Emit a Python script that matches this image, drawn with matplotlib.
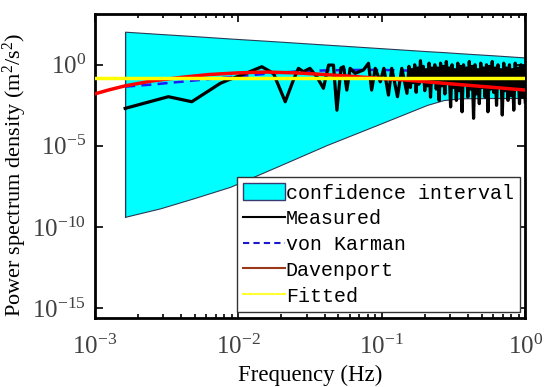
import numpy as np
import matplotlib
matplotlib.use("Agg")
import matplotlib.pyplot as plt
from matplotlib.patches import Patch
from matplotlib.lines import Line2D
from matplotlib.ticker import FixedLocator, LogLocator, NullLocator

# confidence band (log10 of frequency / psd)
conf_logf = [-2.787, -2.544, -2.311, -2.056, -1.730, -1.382, -1.033, -0.685, -0.569, -0.453, -0.2, 0.0]
conf_upper = [2.04, 1.90, 1.77, 1.62, 1.44, 1.24, 1.04, 0.84, 0.78, 0.71, 0.57, 0.45]
conf_lower = [-9.38, -8.86, -8.24, -7.53, -6.29, -4.95, -3.72, -2.48, -2.18, -2.07, -2.05, -2.05]

# measured spectrum, low-frequency part
meas_logf = [-2.787, -2.486, -2.323, -2.125, -2.07, -1.974, -1.835, -1.754, -1.672, -1.615,
             -1.58, -1.545, -1.50, -1.452, -1.406, -1.37, -1.336, -1.312, -1.284, -1.266,
             -1.243, -1.22, -1.185, -1.127, -1.092, -1.07, -1.045, -1.01, -0.985, -0.953,
             -0.93, -0.89, -0.86, -0.824]
meas_log = [-2.69, -1.97, -2.28, -1.15, -0.94, -0.63, -0.12, -0.53, -2.28, -0.94,
            -0.22, -0.43, -0.22, -0.74, -1.45, -0.02, -0.02, -2.8, -0.2, -0.12,
            -1.56, -0.22, -0.53, -0.32, 0.09, -1.56, -0.22, -1.05, -0.22, -1.87,
            -0.22, -1.97, -0.22, -1.76]

# measured spectrum, dense high-frequency part
dense_logf = [-0.81, -0.80, -0.79, -0.78, -0.77, -0.76, -0.75, -0.74, -0.73, -0.72,
              -0.71, -0.70, -0.69, -0.68, -0.67, -0.66, -0.65, -0.64, -0.63, -0.62,
              -0.61, -0.60, -0.59, -0.58, -0.57, -0.56, -0.55, -0.54, -0.53, -0.52,
              -0.51, -0.50, -0.49, -0.48, -0.47, -0.46, -0.45, -0.44, -0.43, -0.42,
              -0.41, -0.40, -0.39, -0.38, -0.37, -0.36, -0.35, -0.34, -0.33, -0.32,
              -0.31, -0.30, -0.29, -0.28, -0.27, -0.26, -0.25, -0.24, -0.23, -0.22,
              -0.21, -0.20, -0.19, -0.18, -0.17, -0.16, -0.15, -0.14, -0.13, -0.12,
              -0.11, -0.10, -0.09, -0.08, -0.07, -0.06, -0.05, -0.04, -0.03, -0.02,
              -0.01, 0.00]
dense_log = [-0.1, -1.4, -0.3, -1.1, 0.0, -1.7, -0.2, -1.2, 0.25, -0.9,
             -0.1, -1.6, -0.3, -1.3, 0.1, -2.0, -0.2, -1.1, 0.0, -1.5,
             -0.2, -2.2, 0.1, -1.3, -0.1, -1.8, 0.2, -1.0, -0.2, -2.6,
             0.0, -1.4, -0.3, -2.2, 0.1, -1.6, -0.1, -2.9, 0.0, -1.2,
             -0.2, -2.0, 0.2, -1.5, -0.1, -3.3, 0.0, -1.8, -0.3, -2.4,
             0.1, -1.4, -0.2, -2.0, 0.0, -2.9, -0.1, -1.5, 0.2, -1.7,
             -0.2, -2.5, 0.0, -1.3, -0.3, -3.1, 0.1, -1.6, -0.2, -2.2,
             0.0, -1.9, -0.3, -2.8, 0.1, -1.5, -0.2, -2.4, 0.0, -2.0,
             -0.1, -2.3]

# von Karman model
vk_logf = [-2.787, -2.6, -2.4, -2.2, -2.0, -1.8, -1.6, -1.4, -1.2, -1.0, -0.8, -0.6, -0.4, -0.2, 0.0]
vk_log = [-1.35, -1.22, -1.05, -0.88, -0.72, -0.55, -0.42, -0.35, -0.32, -0.32, -0.36, -0.45, -0.55, -0.68, -0.8]

# Davenport model
dav_logf = [-3.0, -2.9, -2.787, -2.6, -2.4, -2.2, -2.0, -1.8, -1.6, -1.4, -1.2, -1.0, -0.84, -0.42, 0.0]
dav_log = [-1.8, -1.55, -1.3, -1.0, -0.78, -0.6, -0.5, -0.45, -0.5, -0.6, -0.72, -0.85, -0.94, -1.25, -1.56]

# fitted level
fit_logf = [-3.0, 0.0]
fit_log = [-0.84, -0.84]

plt.rcParams['font.family'] = ['Liberation Serif', 'DejaVu Serif']
plt.rcParams['mathtext.fontset'] = 'custom'
plt.rcParams['mathtext.rm'] = 'Liberation Serif'
plt.rcParams['mathtext.it'] = 'Liberation Serif:italic'

fig = plt.figure(figsize=(5.5, 3.87), dpi=100)
ax = fig.add_axes([0.172, 0.178, 0.783, 0.787])

p = lambda v: 10.0 ** np.array(v)

ax.fill_between(p(conf_logf), p(conf_lower), p(conf_upper), facecolor='#00FFFF',
                edgecolor='#2a3a55', linewidth=0.8, zorder=1)
ax.plot([p(conf_logf)[0]] * 2, [p(conf_lower)[0], p(conf_upper)[0]], color='#2a3a55', lw=0.8, zorder=1)
ax.plot(p(vk_logf), p(vk_log), color='#1a1aff', lw=1.8, ls=(0, (4, 2.5)), zorder=3)
ax.plot(p(meas_logf + dense_logf), p(meas_log + dense_log), color='black', lw=2.3, zorder=4)
ax.plot(p(dav_logf), p(dav_log), color='#FF0000', lw=2.5, zorder=5)
ax.plot(p(fit_logf), p(fit_log), color='#FFFF00', lw=2.5, zorder=6)

ax.set_xscale('log')
ax.set_yscale('log')
ax.set_xlim(1e-3, 1e0)
ax.set_ylim(10 ** -15.63, 10 ** 3.16)
ax.yaxis.set_major_locator(FixedLocator([1e-15, 1e-10, 1e-5, 1e0]))
ax.yaxis.set_minor_locator(NullLocator())
ax.xaxis.set_major_locator(FixedLocator([1e-3, 1e-2, 1e-1, 1e0]))
ax.xaxis.set_minor_locator(LogLocator(base=10, subs=np.arange(2, 10)))
ax.tick_params(which='both', direction='in', top=True, right=True, labelsize=18,
               labelcolor='#404040', width=1.2)
ax.tick_params(which='major', length=6)
ax.tick_params(axis='x', which='major', pad=12)
ax.tick_params(axis='y', which='major', pad=6)
ax.tick_params(which='minor', length=3)
for s in ax.spines.values():
    s.set_linewidth(2)

ax.set_xlabel('Frequency (Hz)', fontsize=16.5)
ax.set_ylabel('Power spectrum density (m$^2$/s$^2$)', fontsize=16)
ax.yaxis.set_label_coords(-0.152, 0.47)
ax.xaxis.set_label_coords(0.5, -0.152)

handles = [Patch(facecolor='#00FFFF', edgecolor='#3a3a70', linewidth=1),
           Line2D([], [], color='black', lw=1.5),
           Line2D([], [], color='#1a1acc', lw=1.5, ls=(0, (3, 2))),
           Line2D([], [], color='#9a3a1a', lw=1.5),
           Line2D([], [], color='#FFFF33', lw=1.5)]
labels = ['confidence interval', 'Measured', 'von Karman', 'Davenport', 'Fitted']
leg = ax.legend(handles, labels, loc='lower right', bbox_to_anchor=(0.987, 0.021),
                prop={'family': 'Liberation Mono', 'size': 14.4}, handlelength=2.1,
                handleheight=0.9, handletextpad=0.05, labelspacing=0.33, borderpad=0.3,
                borderaxespad=0, fancybox=False, framealpha=1, edgecolor='#333333')
leg.get_frame().set_linewidth(1)
leg.set_zorder(10)

fig.savefig('out.png', dpi=100)
